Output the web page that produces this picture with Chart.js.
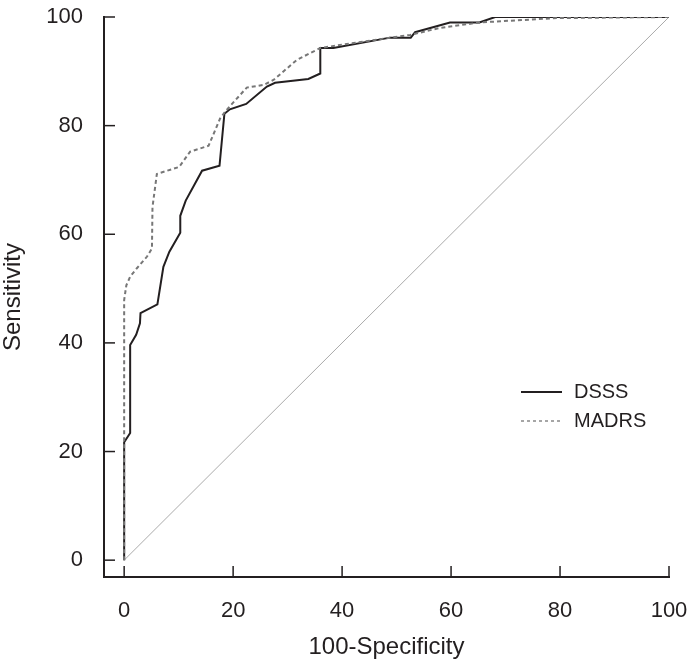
<!DOCTYPE html>
<html>
<head>
<meta charset="utf-8">
<script src="https://cdn.jsdelivr.net/npm/chart.js@4"></script>
<style>
  html, body { margin: 0; padding: 0; background: #fff; }
  #wrap { width: 690px; height: 666px; }
</style>
</head>
<body>
<div id="wrap"><canvas id="rocChart" width="690" height="666"></canvas></div>
<script>
// ROC curves, values (x = 100-Specificity, y = Sensitivity)
const dsssX = [0, 0, 1.1, 1.1, 2.2, 2.9, 3.0, 6.1, 7.2, 8.3, 10.3, 10.3, 11.3, 14.3, 17.5, 18.4, 19.4, 22.4, 26.2, 27.7, 33.8, 36, 36, 38.4, 48.8, 52.6, 53.4, 59.8, 65.2, 68.1, 100];
const dsssY = [0, 21.7, 23.4, 39.6, 41.5, 43.6, 45.5, 47.1, 54, 56.8, 60.3, 63.4, 66.2, 71.7, 72.6, 82.2, 83, 84, 87.2, 87.9, 88.6, 89.6, 94.3, 94.3, 96.2, 96.2, 97.2, 99, 99, 100, 100];

const madrsX = [0, 0, 0.4, 1.1, 2.3, 4.2, 5.1, 5.2, 6.0, 10.1, 12.1, 15.5, 17.6, 18.8, 22.5, 25.6, 27.4, 31.7, 36, 48.8, 52.5, 58, 65.3, 79.4, 100];
const madrsY = [0, 47.9, 50.6, 52.2, 53.7, 55.9, 57.4, 65, 71.1, 72.4, 75.2, 76.3, 81.3, 82.9, 87, 87.5, 88.4, 92.1, 94.3, 96.2, 96.7, 98, 99, 99.8, 100];

const refX = [0, 100];
const refY = [0, 100];

const tickVals = [0, 20, 40, 60, 80, 100];
const seriesNames = ['DSSS', 'MADRS'];

const ink = '#231f20';
const fontFam = "'Liberation Sans', Arial, sans-serif";

function toPoints(xs, ys) {
    return xs.map((x, i) => ({ x: x, y: ys[i] }));
}

// ticks pointing into the plot, like the original
const innerTicks = {
    id: 'innerTicks',
    afterDraw(chart) {
        const ctx = chart.ctx;
        const xs = chart.scales.x;
        const ys = chart.scales.y;
        const area = chart.chartArea;
        ctx.save();
        ctx.strokeStyle = ink;
        ctx.lineWidth = 1.5;
        tickVals.forEach(v => {
            const px = xs.getPixelForValue(v);
            ctx.beginPath();
            ctx.moveTo(px, area.bottom);
            ctx.lineTo(px, area.bottom - 11);
            ctx.stroke();
            const py = ys.getPixelForValue(v);
            ctx.beginPath();
            ctx.moveTo(area.left, py);
            ctx.lineTo(area.left + 11, py);
            ctx.stroke();
        });
        ctx.restore();
    }
};

// legend box inside the plot, lower right
const insideLegend = {
    id: 'insideLegend',
    afterDraw(chart) {
        const ctx = chart.ctx;
        ctx.save();
        ctx.font = "20px 'Liberation Sans Narrow', 'Liberation Sans', sans-serif";
        ctx.fillStyle = ink;
        ctx.textBaseline = 'middle';
        // DSSS
        ctx.strokeStyle = ink;
        ctx.lineWidth = 2;
        ctx.setLineDash([]);
        ctx.beginPath();
        ctx.moveTo(521, 392);
        ctx.lineTo(562, 392);
        ctx.stroke();
        ctx.fillText(seriesNames[0], 574, 392);
        // MADRS
        ctx.strokeStyle = '#777';
        ctx.lineWidth = 1.3;
        ctx.setLineDash([3, 3]);
        ctx.beginPath();
        ctx.moveTo(521, 421);
        ctx.lineTo(562, 421);
        ctx.stroke();
        ctx.setLineDash([]);
        ctx.fillText(seriesNames[1], 574, 421);
        ctx.restore();
    }
};

const ctx = document.getElementById('rocChart').getContext('2d');
new Chart(ctx, {
    type: 'line',
    data: {
        datasets: [
            {
                label: seriesNames[1],
                data: toPoints(madrsX, madrsY),
                borderColor: '#777',
                borderWidth: 2,
                borderDash: [4, 3],
                pointRadius: 0,
                tension: 0,
                fill: false,
                order: 0
            },
            {
                label: seriesNames[0],
                data: toPoints(dsssX, dsssY),
                borderColor: ink,
                borderWidth: 2,
                pointRadius: 0,
                tension: 0,
                fill: false,
                order: 1
            },
            {
                label: 'reference',
                data: toPoints(refX, refY),
                borderColor: '#aaa',
                borderWidth: 1,
                pointRadius: 0,
                tension: 0,
                fill: false,
                order: 2
            }
        ]
    },
    options: {
        responsive: false,
        animation: false,
        layout: { padding: { left: 0, top: 17, right: 21, bottom: 0 } },
        plugins: {
            legend: { display: false },
            tooltip: { enabled: false }
        },
        scales: {
            x: {
                type: 'linear',
                min: -3.7,
                max: 100,
                afterBuildTicks: s => { s.ticks = tickVals.map(v => ({ value: v })); },
                afterFit: s => { s.height = 89; s.paddingLeft = 0; s.paddingRight = 0; },
                grid: { display: false },
                border: { display: true, color: ink, width: 2 },
                ticks: {
                    padding: 13,
                    color: ink,
                    font: { family: fontFam, size: 22 },
                    maxRotation: 0
                },
                title: {
                    display: true,
                    text: '100-Specificity',
                    color: ink,
                    font: { family: fontFam, size: 24, lineHeight: 1 },
                    padding: { top: 0, bottom: 7 }
                }
            },
            y: {
                type: 'linear',
                min: -3.1,
                max: 100,
                afterBuildTicks: s => { s.ticks = tickVals.map(v => ({ value: v })); },
                afterFit: s => { s.width = 104; s.paddingTop = 0; s.paddingBottom = 0; },
                grid: { display: false },
                border: { display: true, color: ink, width: 2 },
                ticks: {
                    padding: 13,
                    color: ink,
                    font: { family: fontFam, size: 22 }
                },
                title: {
                    display: true,
                    text: 'Sensitivity',
                    color: ink,
                    font: { family: fontFam, size: 24, lineHeight: 1 },
                    padding: { top: 1, bottom: 0 }
                }
            }
        }
    },
    plugins: [innerTicks, insideLegend]
});
</script>
</body>
</html>
